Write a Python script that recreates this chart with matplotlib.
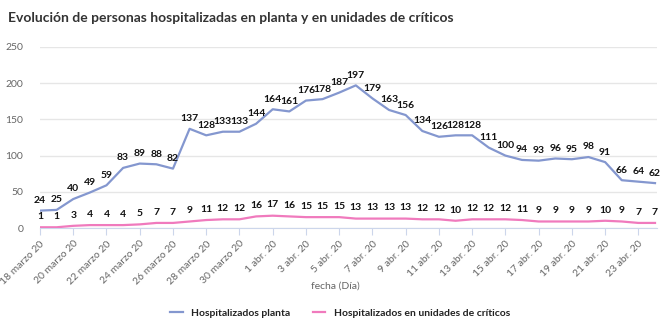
import matplotlib
matplotlib.use("Agg")
import matplotlib.pyplot as plt
import pandas as pd

plt.rcParams['font.family'] = ['Lato', 'DejaVu Sans']

# daily series, 18 marzo -> 24 abr 2020
fechas = pd.date_range("2020-03-18", "2020-04-24", freq="D")
planta = [24, 25, 40, 49, 59, 83, 89, 88, 82, 137, 128, 133, 133, 144, 164, 161,
          176, 178, 187, 197, 179, 163, 156, 134, 126, 128, 128, 111, 100, 94, 93,
          96, 95, 98, 91, 66, 64, 62]
criticos = [1, 1, 3, 4, 4, 4, 5, 7, 7, 9, 11, 12, 12, 16, 17, 16, 15, 15, 15, 13,
            13, 13, 13, 12, 12, 10, 12, 12, 12, 11, 9, 9, 9, 9, 10, 9, 7, 7]
y_ticks = [0, 50, 100, 150, 200, 250]

meses = {3: "marzo", 4: "abr."}
def etiqueta(d):
    return f"{d.day} {meses[d.month]} 20"

c_planta = "#8497cf"
c_crit = "#f07abd"

fig = plt.figure(figsize=(6.7, 3.31), dpi=100)
ax = fig.add_axes([40 / 670, 103 / 331, 617 / 670, 181 / 331])

x = list(range(len(fechas)))
ax.plot(x, planta, color=c_planta, lw=1.6, label="Hospitalizados planta", zorder=3)
ax.plot(x, criticos, color=c_crit, lw=1.6, label="Hospitalizados en unidades de críticos", zorder=3)

for xi, v in zip(x, planta):
    ax.annotate(str(v), (xi, v), xytext=(0, 4), textcoords="offset points",
                ha="center", va="bottom", fontsize=7.5, fontweight="bold", color="#111111")
for xi, v in zip(x, criticos):
    ax.annotate(str(v), (xi, v), xytext=(0, 4.5), textcoords="offset points",
                ha="center", va="bottom", fontsize=7.5, fontweight="bold", color="#111111")

ax.set_xlim(0, len(x) - 1 + 0.12)
ax.set_ylim(0, 250)
ax.set_yticks(y_ticks)
ax.yaxis.grid(True, color="#e6e6e6", lw=1)
ax.set_axisbelow(True)

tick_pos = x[::2]
ax.set_xticks(tick_pos)
ax.set_xticklabels([etiqueta(fechas[i]) for i in tick_pos], rotation=45,
                   ha="right", rotation_mode="anchor", fontsize=7.5, color="#666666")
ax.tick_params(axis="x", length=5, color="#ccd6eb", pad=3)
ax.tick_params(axis="y", length=0, labelsize=7.5, labelcolor="#666666", pad=12)

for s in ["left", "right", "top"]:
    ax.spines[s].set_visible(False)
ax.spines["bottom"].set_color("#ccd6eb")

fig.text(8 / 670, 1 - 18 / 331, "Evolución de personas hospitalizadas en planta y en unidades de críticos",
         fontsize=10, fontweight="bold", color="#333333", va="center", ha="left")
fig.text(335 / 670, 1 - 286 / 331, "fecha (Día)", fontsize=7.5, color="#666666",
         ha="center", va="center")

fig.legend(loc="center", bbox_to_anchor=(340 / 670, 1 - 313 / 331), ncol=2, frameon=False,
           prop={"size": 7.5, "weight": "bold"}, handlelength=1.2, columnspacing=2.2,
           labelcolor="#222222")

fig.savefig("out.png", dpi=100)
